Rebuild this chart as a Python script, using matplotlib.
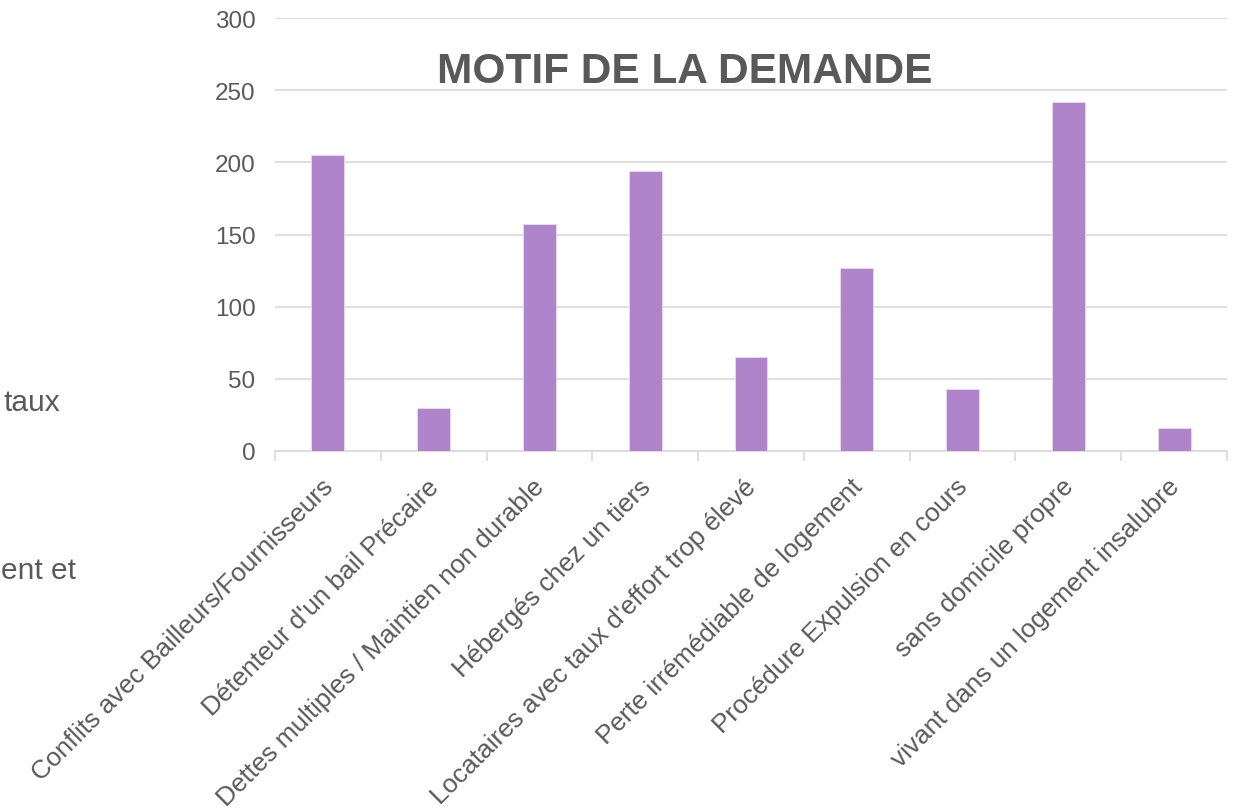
import matplotlib
matplotlib.use("Agg")
import matplotlib.pyplot as plt
import matplotlib.transforms as mtransforms
import numpy as np

categories = [
    "Conflits avec Bailleurs/Fournisseurs",
    "Détenteur d'un bail Précaire",
    "Dettes multiples / Maintien non durable",
    "Hébergés chez un tiers",
    "Locataires avec taux d'effort trop élevé",
    "Perte irrémédiable de logement",
    "Procédure Expulsion en cours",
    "sans domicile propre",
    "vivant dans un logement insalubre",
]
values = [205, 30, 157, 194, 65, 127, 43, 242, 16]
yticks = [0, 50, 100, 150, 200, 250, 300]
title = "MOTIF DE LA DEMANDE"
stray_texts = ["taux", "ent et"]

plt.rcParams['font.family'] = ['Liberation Sans', 'DejaVu Sans']

W, H = 1241, 812
fig = plt.figure(figsize=(W / 100, H / 100), dpi=100)
ax = fig.add_axes([275 / W, 1 - 452 / H, (1227 - 275) / W, (452 - 19) / H])

x = np.arange(len(categories))
ax.bar(x, values, width=0.31, color='#AF84CB', edgecolor='#E8DCF2', linewidth=0.6, zorder=3)

ax.set_xlim(-0.5, len(categories) - 0.5)
ax.set_ylim(0, 300)
ax.set_yticks(yticks)
ax.set_yticklabels([str(v) for v in yticks], fontsize=17.5, color='#595959')
ax.yaxis.grid(True, color='#D9D9D9', linewidth=1.2, zorder=0)
ax.tick_params(axis='y', length=0, pad=14)

ax.set_xticks(x)
ax.set_xticklabels(categories, rotation=45, ha='right', va='top',
                   rotation_mode='anchor', fontsize=18.8, color='#595959')
ax.set_xticks(np.arange(-0.5, len(categories), 1.0), minor=True)
ax.tick_params(axis='x', which='major', length=0, pad=13)
ax.tick_params(axis='x', which='minor', length=7, color='#D9D9D9', width=1.2)
offset = mtransforms.ScaledTranslation(-0.07, -0.05, fig.dpi_scale_trans)
for lbl in ax.get_xticklabels():
    lbl.set_transform(lbl.get_transform() + offset)

for s in ['top', 'right', 'left']:
    ax.spines[s].set_visible(False)
ax.spines['bottom'].set_color('#D9D9D9')
ax.spines['bottom'].set_linewidth(1.2)

fig.text(685 / W, 1 - 72 / H, title, ha='center', va='center',
         fontsize=30.5, fontweight='bold', color='#595959')

fig.text(60 / W, 1 - 403 / H, stray_texts[0], ha='right', va='center',
         fontsize=21.5, color='#595959')
fig.text(76 / W, 1 - 571 / H, stray_texts[1], ha='right', va='center',
         fontsize=21.5, color='#595959')

fig.savefig("out.png", dpi=100)
